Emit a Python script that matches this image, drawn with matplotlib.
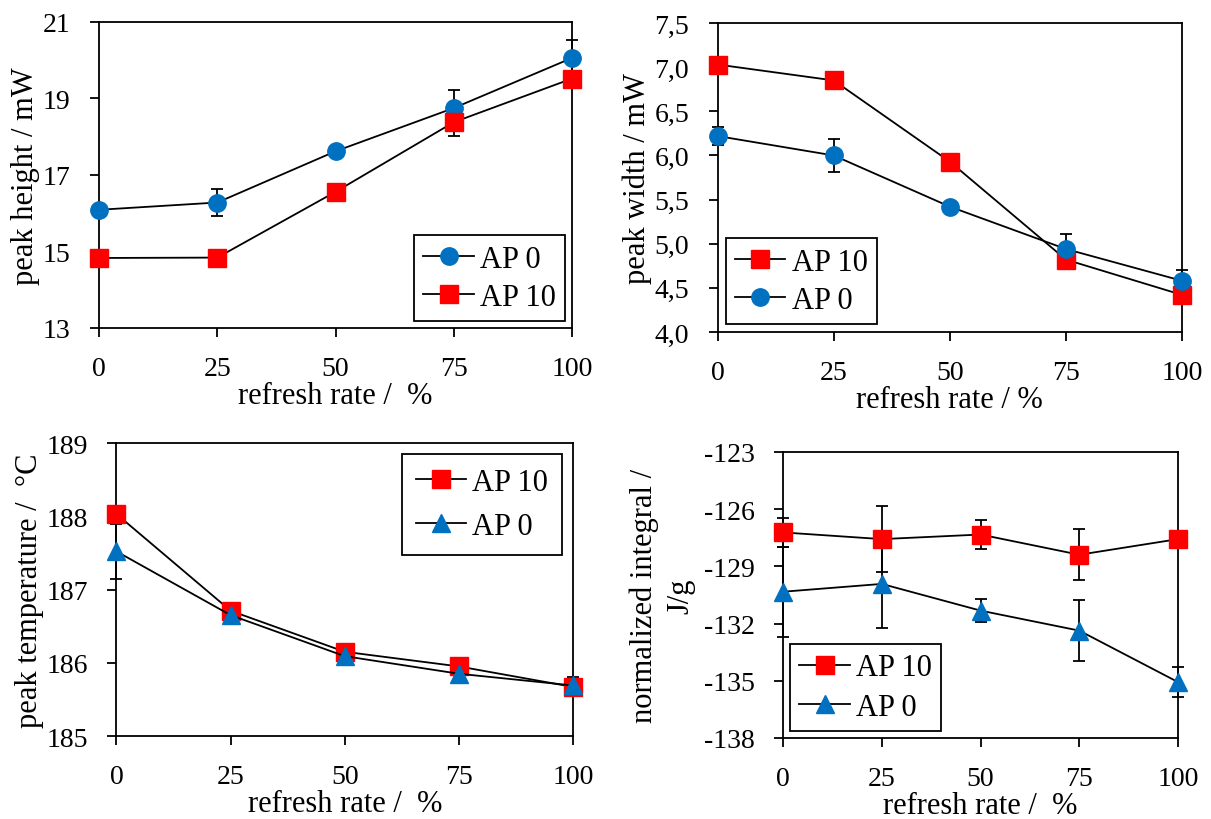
import matplotlib
matplotlib.use('Agg')
import matplotlib.pyplot as plt
from matplotlib.ticker import FuncFormatter

plt.rcParams['font.family'] = ['Liberation Serif', 'DejaVu Serif']
plt.rcParams['font.size'] = 20
plt.rcParams['axes.unicode_minus'] = False

refresh = [0, 25, 50, 75, 100]

# peak height / mW
height_ap0 = [16.09, 16.28, 17.62, 18.75, 20.06]
height_ap0_err = [0.05, 0.35, 0.05, 0.47, 0.46]
height_ap10 = [14.83, 14.84, 16.56, 18.38, 19.52]
height_ap10_err = [0.05, 0.05, 0.05, 0.36, 0.05]

# peak width / mW
width_ap10 = [7.03, 6.85, 5.93, 4.82, 4.42]
width_ap10_err = [0.03, 0.03, 0.03, 0.03, 0.03]
width_ap0 = [6.22, 6.00, 5.42, 4.94, 4.58]
width_ap0_err = [0.10, 0.19, 0.03, 0.165, 0.125]

# peak temperature / C
temp_ap10 = [188.03, 186.71, 186.15, 185.95, 185.67]
temp_ap10_err = [0.02, 0.02, 0.02, 0.02, 0.02]
temp_ap0 = [187.52, 186.65, 186.09, 185.85, 185.69]
temp_ap0_err = [0.37, 0.02, 0.02, 0.02, 0.12]

# normalized integral / J/g
integ_ap10 = [-127.22, -127.57, -127.33, -128.39, -127.57]
integ_ap10_err = [0.75, 1.75, 0.77, 1.35, 0.1]
integ_ap0 = [-130.33, -129.92, -131.32, -132.37, -135.07]
integ_ap0_err = [2.35, 2.32, 0.62, 1.6, 0.78]

BLUE = '#0070C0'
RED = '#FF0000'


def draw_series(ax, y, err, marker, color):
    c = ax.errorbar(refresh, y, yerr=err, color='black', lw=1.3, ecolor='black',
                    elinewidth=1.3, capsize=4, capthick=1.3, marker=marker,
                    markersize=12.5, markerfacecolor=color, markeredgecolor=color,
                    clip_on=False, zorder=3)
    for art in c.lines[1] + c.lines[2]:
        art.set_clip_on(False)
    return c[0]


def style_axis(ax, ylim, yticks, xlabel, ylabel):
    ax.set_xlim(0, 100)
    ax.set_ylim(*ylim)
    ax.set_xticks(refresh)
    ax.set_yticks(yticks)
    ax.tick_params(direction='out', length=6.5, width=1.3, pad=14, labelsize=20)
    for s in ax.spines.values():
        s.set_linewidth(1.3)
    ax.set_xlabel(xlabel, labelpad=0, fontsize=22)
    ax.set_ylabel(ylabel, fontsize=22, labelpad=2)


def legend(ax, handles, labels, loc, anchor, spacing=0.3, bpad=0.3):
    lg = ax.legend(handles, labels, loc=loc, bbox_to_anchor=anchor, fancybox=False,
                   framealpha=1, edgecolor='black', handlelength=1.65,
                   handletextpad=0.2, borderpad=bpad, labelspacing=spacing,
                   borderaxespad=0, fontsize=22)
    lg.get_frame().set_linewidth(1.3)


fig = plt.figure(figsize=(12.11, 8.2), dpi=100)
ax1 = fig.add_axes([0.0818, 0.5988, 0.3906, 0.3732])
ax2 = fig.add_axes([0.5925, 0.5939, 0.3836, 0.3768])
ax3 = fig.add_axes([0.0962, 0.1012, 0.3770, 0.3573])
ax4 = fig.add_axes([0.6466, 0.0988, 0.3262, 0.3488])

# top left
h0 = draw_series(ax1, height_ap0, height_ap0_err, 'o', BLUE)
h10 = draw_series(ax1, height_ap10, height_ap10_err, 's', RED)
style_axis(ax1, (13, 21), [13, 15, 17, 19, 21], 'refresh rate /  %', 'peak height / mW')
legend(ax1, [h0, h10], ['AP 0', 'AP 10'], 'lower right', (0.985, 0.023))

# top right
h10 = draw_series(ax2, width_ap10, width_ap10_err, 's', RED)
h0 = draw_series(ax2, width_ap0, width_ap0_err, 'o', BLUE)
style_axis(ax2, (4.0, 7.5), [4.0, 4.5, 5.0, 5.5, 6.0, 6.5, 7.0, 7.5],
           'refresh rate / %', 'peak width / mW')
ax2.yaxis.set_major_formatter(FuncFormatter(lambda v, p: f'{v:.1f}'.replace('.', ',')))
legend(ax2, [h10, h0], ['AP 10', 'AP 0'], 'lower left', (0.018, 0.026))

# bottom left
h10 = draw_series(ax3, temp_ap10, temp_ap10_err, 's', RED)
h0 = draw_series(ax3, temp_ap0, temp_ap0_err, '^', BLUE)
style_axis(ax3, (185, 189), [185, 186, 187, 188, 189], 'refresh rate /  %',
           'peak temperature /  \u00b0C')
legend(ax3, [h10, h0], ['AP 10', 'AP 0'], 'upper right', (0.976, 0.962),
       spacing=0.5, bpad=0.45)

# bottom right
h10 = draw_series(ax4, integ_ap10, integ_ap10_err, 's', RED)
h0 = draw_series(ax4, integ_ap0, integ_ap0_err, '^', BLUE)
style_axis(ax4, (-138, -123), [-138, -135, -132, -129, -126, -123], 'refresh rate /  %',
           'normalized integral /\nJ/g')
ax4.yaxis.label.set_linespacing(1.35)
ax4.yaxis.labelpad = 6
legend(ax4, [h10, h0], ['AP 10', 'AP 0'], 'lower left', (0.018, 0.024), spacing=0.35)

fig.savefig('out.png', dpi=100)
